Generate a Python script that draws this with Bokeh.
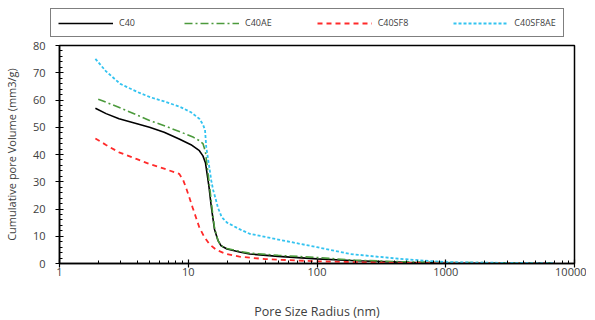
from bokeh.plotting import figure
from bokeh.layouts import column
from bokeh.models import (Legend, LegendItem, FixedTicker, CustomJSTickFormatter,
                          Range1d)
from bokeh.embed import file_html
from bokeh.resources import INLINE

# ---- data ----
x_c40 = [1.9, 2.3, 2.9, 4, 5, 6.5, 8.5, 10.5, 12.2, 13, 13.6, 14, 14.5, 15, 15.5, 16, 17, 18, 20, 25, 30, 50, 100, 200, 500, 1000, 3000, 7000]
y_c40 = [57.0, 55.0, 53.1, 51.3, 50.0, 48.2, 45.7, 43.6, 41.4, 39.5, 37.0, 33.0, 28.0, 22.0, 17.0, 12.5, 8.5, 6.5, 5.3, 4.2, 3.5, 2.6, 1.7, 1.0, 0.4, 0.2, 0.1, 0.05]

x_c40ae = [2.0, 2.5, 3, 4, 5, 7, 9, 11, 12.2, 13, 13.6, 14, 14.5, 15, 15.5, 16, 17, 18, 20, 25, 30, 50, 100, 200, 500, 1000, 2000, 7000]
y_c40ae = [60.3, 58.5, 57.0, 54.5, 52.5, 50.0, 48.0, 46.3, 45.1, 44.0, 41.0, 36.0, 30.0, 24.0, 18.0, 13.0, 8.5, 6.5, 5.5, 4.5, 3.8, 3.0, 2.2, 1.2, 0.6, 0.4, 0.3, 0.1]

x_c40sf8 = [1.9, 2.3, 2.9, 4, 5, 6.5, 8.5, 9.1, 9.6, 10.2, 10.8, 11.5, 12.2, 13.3, 14.6, 16.5, 19.7, 25, 40, 100, 300, 1000, 7000]
y_c40sf8 = [45.9, 43.5, 40.8, 38.3, 36.5, 34.8, 32.9, 30.8, 27.9, 24.2, 20.6, 16.8, 13.2, 9.8, 7.1, 5.0, 3.5, 2.5, 1.6, 0.8, 0.3, 0.1, 0.0]

x_c40sf8ae = [1.9, 2.3, 2.97, 4, 5.08, 6.5, 8.7, 10.5, 12.2, 13, 13.5, 13.8, 14.5, 15.1, 15.6, 16.2, 17, 18.2, 20, 25, 30, 50, 74, 100, 180, 440, 1000, 2000, 7000]
y_c40sf8ae = [75.1, 70.5, 65.9, 63.0, 61.0, 59.5, 57.4, 55.5, 53.1, 51.0, 49.0, 42.7, 36.0, 30.4, 27.0, 24.3, 20.5, 17.0, 15.0, 12.6, 10.9, 8.8, 7.2, 6.0, 3.5, 1.7, 0.5, 0.3, 0.1]

series_names = ["C40", "C40AE", "C40SF8", "C40SF8AE"]

x_ticks = [1, 10, 100, 1000, 10000]
y_ticks = [0, 10, 20, 30, 40, 50, 60, 70, 80]

FONT = "Open Sans"
TXT = "#404040"

styles = [dict(line_color="black", line_width=1.6),
          dict(line_color="#4c9a3c", line_width=1.6, line_dash="8 3 2 3"),
          dict(line_color="#ff2a2a", line_width=1.8, line_dash="5 4"),
          dict(line_color="#33c3f0", line_width=1.8, line_dash="3 2")]

# ---- main plot ----
p = figure(frame_width=515, frame_height=218, x_axis_type="log",
           x_range=Range1d(1, 10000), y_range=Range1d(0, 80),
           output_backend="svg", toolbar_location=None,
           min_border_left=8, min_border_right=12, min_border_bottom=0,
           min_border_top=7)
p.frame_align = False
p.background_fill_color = "white"
p.border_fill_color = "white"
p.outline_line_color = "black"
p.outline_line_width = 1.5
p.xgrid.visible = False
p.ygrid.visible = False

series = [(x_c40, y_c40), (x_c40ae, y_c40ae), (x_c40sf8, y_c40sf8), (x_c40sf8ae, y_c40sf8ae)]
for (xs, ys), st in zip(series, styles):
    p.line(xs, ys, **st)

minor = []
for d in [1, 10, 100, 1000]:
    minor += [d * k for k in range(2, 10)]
p.xaxis.ticker = FixedTicker(ticks=x_ticks, minor_ticks=minor)
p.xaxis.formatter = CustomJSTickFormatter(code="return tick.toFixed(0);")
p.yaxis.ticker = FixedTicker(ticks=y_ticks, minor_ticks=list(range(0, 81, 2)))

for ax in (p.xaxis[0], p.yaxis[0]):
    ax.axis_line_width = 1.5
    ax.axis_line_color = "black"
    ax.major_tick_line_color = "black"
    ax.minor_tick_line_color = "black"
    ax.major_tick_line_width = 1.2
    ax.major_tick_in = 4
    ax.major_tick_out = 4
    ax.minor_tick_in = 3
    ax.minor_tick_out = 0
    ax.major_label_text_font = FONT
    ax.major_label_text_font_size = "11px"
    ax.major_label_text_color = TXT
    ax.axis_label_text_font = FONT
    ax.axis_label_text_font_style = "normal"
    ax.axis_label_text_color = TXT

p.xaxis.axis_label = "Pore Size Radius (nm)"
p.xaxis.axis_label_text_font_size = "12.5px"
p.xaxis.major_label_standoff = 0
p.xaxis.axis_label_standoff = 24
p.yaxis.axis_label = "Cumulative pore Volume (mm3/g)"
p.yaxis.axis_label_text_font_size = "11px"
p.yaxis.major_label_standoff = 10
p.yaxis.axis_label_standoff = 11

# ---- legend strip (separate small figure holding only the legend) ----
lg = figure(width=587, height=38, output_backend="svg", toolbar_location=None,
            x_axis_location=None, y_axis_location=None,
            min_border_left=0, min_border_right=0, min_border_top=0,
            min_border_bottom=0, x_range=Range1d(0, 1), y_range=Range1d(0, 1))
lg.frame_align = False
lg.outline_line_color = None
lg.background_fill_color = "white"
lg.border_fill_color = "white"
lg.xgrid.visible = False
lg.ygrid.visible = False
nan = float("nan")
items = []
for name, st in zip(series_names, styles):
    r = lg.line([nan], [nan], **st)   # legend-only renderer, draws nothing
    items.append(LegendItem(label=name, renderers=[r]))

legend = Legend(items=items,
                orientation="horizontal", location=(50, 1),
                border_line_color="black", border_line_width=1.5,
                label_text_font=FONT, label_text_font_size="9px",
                label_text_color=TXT,
                glyph_width=55, glyph_height=10, label_standoff=6,
                spacing=45, padding=7, margin=0,
                label_height=12)
lg.add_layout(legend, "center")

layout = column(lg, p, spacing=0)
open("out.html", "w").write(file_html(layout, INLINE))
